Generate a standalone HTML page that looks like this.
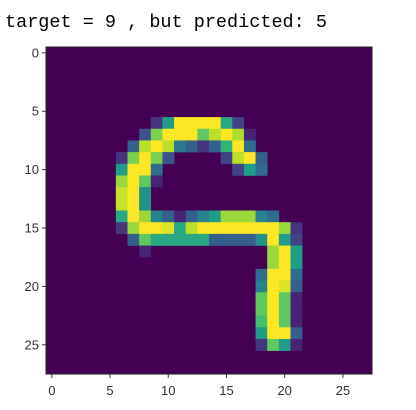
<!DOCTYPE html>
<html><head><meta charset="utf-8"><style>
html,body{margin:0;padding:0;background:#fff;width:416px;height:410px;overflow:hidden}
#title{position:absolute;left:5px;top:12px;font-family:"Liberation Mono",monospace;font-size:18.5px;color:#000;white-space:pre}
svg{position:absolute;left:0;top:0}
</style></head><body>
<div id="title">target = 9 , but predicted: 5</div>
<svg id="chart" width="416" height="410"></svg>
<script>
const gridSize = 28;
const tickValues = [0, 5, 10, 15, 20, 25];
const tickLabels = ["0", "5", "10", "15", "20", "25"];
// [row, col, intensity]
const pixels = [
[6,9,0.15],[6,10,0.55],[6,11,1],[6,12,1],[6,13,1],[6,14,1],[6,15,0.6],[6,16,0.2],
[7,8,0.25],[7,9,0.8],[7,10,1],[7,11,1],[7,12,1],[7,13,0.75],[7,14,0.9],[7,15,1],[7,16,0.88],[7,17,0.1],
[8,7,0.3],[8,8,0.9],[8,9,1],[8,10,0.9],[8,11,0.4],[8,12,0.3],[8,13,0.15],[8,14,0.3],[8,15,0.65],[8,16,1],[8,17,0.35],
[9,6,0.15],[9,7,0.8],[9,8,1],[9,9,0.8],[9,10,0.25],[9,15,0.2],[9,16,0.9],[9,17,1],[9,18,0.3],
[10,6,0.55],[10,7,1],[10,8,1],[10,9,0.35],[10,16,0.2],[10,17,0.55],[10,18,0.35],
[11,6,0.85],[11,7,1],[11,8,0.75],[11,9,0.1],
[12,6,0.92],[12,7,1],[12,8,0.5],
[13,6,0.92],[13,7,1],[13,8,0.5],
[14,6,0.6],[14,7,1],[14,8,0.85],[14,9,0.45],[14,10,0.3],[14,11,0.1],[14,12,0.3],[14,13,0.45],[14,14,0.55],[14,15,0.85],[14,16,0.85],[14,17,0.85],[14,18,0.45],[14,19,0.35],
[15,6,0.15],[15,7,0.85],[15,8,1],[15,9,1],[15,10,0.95],[15,11,0.6],[15,12,0.9],[15,13,1],[15,14,1],[15,15,1],[15,16,1],[15,17,1],[15,18,1],[15,19,1],[15,20,0.85],[15,21,0.15],
[16,7,0.3],[16,8,0.75],[16,9,0.6],[16,10,0.6],[16,11,0.6],[16,12,0.6],[16,13,0.6],[16,14,0.3],[16,15,0.3],[16,16,0.3],[16,17,0.3],[16,18,0.5],[16,19,1],[16,20,0.55],[16,21,0.2],
[17,8,0.1],[17,19,0.85],[17,20,1],[17,21,0.55],
[18,19,0.85],[18,20,1],[18,21,0.55],
[19,18,0.35],[19,19,1],[19,20,1],[19,21,0.35],
[20,18,0.45],[20,19,1],[20,20,0.95],[20,21,0.3],
[21,18,0.75],[21,19,1],[21,20,0.75],[21,21,0.1],
[22,18,0.75],[22,19,1],[22,20,0.75],[22,21,0.1],
[23,18,0.7],[23,19,1],[23,20,0.75],[23,21,0.1],
[24,18,0.55],[24,19,1],[24,20,1],[24,21,0.3],
[25,18,0.15],[25,19,0.75],[25,20,0.55],[25,21,0.1]
];
const NS = "http://www.w3.org/2000/svg";
const svg = document.getElementById("chart");
const L = 46, T = 47, W = 326, H = 327;
const cw = W / gridSize, ch = H / gridSize;
const xScale = c => L + c * cw;
const yScale = r => T + r * ch;
const vir = [[68,1,84],[72,40,120],[62,74,137],[49,104,142],[38,130,142],[31,158,137],[53,183,121],[109,205,89],[180,222,44],[253,231,37]];
function viridis(v){
  v = Math.max(0, Math.min(1, v)) * (vir.length - 1);
  const i = Math.min(Math.floor(v), vir.length - 2), f = v - i;
  const c = vir[i].map((a, k) => Math.round(a + (vir[i+1][k] - a) * f));
  return `rgb(${c[0]},${c[1]},${c[2]})`;
}
function mk(tag, attrs){ const e = document.createElementNS(NS, tag); for (const k in attrs) e.setAttribute(k, attrs[k]); svg.appendChild(e); return e; }
const bg = mk("rect", {x:L, y:T, width:W, height:H, fill:viridis(0)});


pixels.forEach(p => {
  const r = mk("rect", {x:xScale(p[1]), y:yScale(p[0]), width:cw+0.3, height:ch+0.3, fill:viridis(p[2])});
  
  
});
const frame = mk("rect", {x:L, y:T, width:W, height:H, fill:"none", stroke:"#222", "stroke-width":1});


tickValues.forEach((t, i) => {
  const x = xScale(t + 0.5), y = yScale(t + 0.5);
  const xt = mk("line", {x1:x, x2:x, y1:T+H, y2:T+H+4, stroke:"#333"});
  
  
  const xl = mk("text", {x:x, y:T+H+21, "text-anchor":"middle", "font-family":"Liberation Sans, sans-serif", "font-size":"13", fill:"#333"});
  xl.textContent = tickLabels[i];
  
  
  const yt = mk("line", {x1:L-4, x2:L, y1:y, y2:y, stroke:"#333"});
  
  
  const yl = mk("text", {x:L-7, y:y+4.5, "text-anchor":"end", "font-family":"Liberation Sans, sans-serif", "font-size":"13", fill:"#333"});
  yl.textContent = tickLabels[i];
  
  
});
</script>
</body></html>
